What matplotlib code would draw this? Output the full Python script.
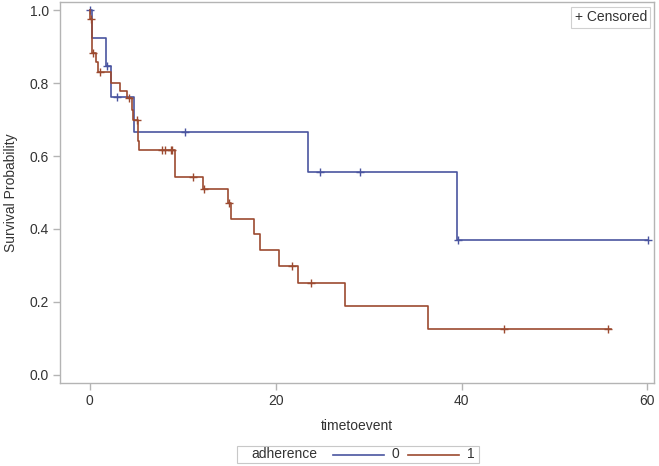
import matplotlib
matplotlib.use("Agg")
import matplotlib.pyplot as plt
from matplotlib.lines import Line2D
from matplotlib.patches import Rectangle

plt.rcParams['font.family'] = ['Liberation Sans', 'DejaVu Sans']

# adherence = 0 (blue)
times0 = [0.0, 0.2, 1.7, 2.3, 4.8, 23.5, 39.5]
surv0 = [1.0, 0.923, 0.846, 0.761, 0.666, 0.555, 0.370]
end0 = 60.1
cens_t0 = [0.05, 1.9, 2.9, 10.2, 24.8, 29.1, 39.6, 60.1]
cens_s0 = [1.0, 0.846, 0.761, 0.666, 0.555, 0.555, 0.370, 0.370]

# adherence = 1 (red)
times1 = [0.0, 0.02, 0.25, 0.65, 0.9, 2.3, 3.3, 4.0, 4.55, 4.65, 5.15, 5.3,
          9.2, 12.2, 14.9, 15.2, 17.7, 18.3, 20.4, 22.4, 27.5, 36.4]
surv1 = [1.0, 0.975, 0.883, 0.858, 0.831, 0.800, 0.779, 0.758, 0.726, 0.699, 0.641, 0.616,
         0.543, 0.510, 0.472, 0.427, 0.385, 0.342, 0.299, 0.251, 0.189, 0.125]
end1 = 56.1
cens_t1 = [0.1, 0.35, 1.15, 4.2, 5.05, 7.8, 8.1, 8.7, 8.9, 11.15, 12.3, 15.0,
           21.75, 23.8, 44.6, 55.8]
cens_s1 = [0.975, 0.883, 0.831, 0.758, 0.699, 0.616, 0.616, 0.616, 0.616, 0.543, 0.510, 0.472,
           0.299, 0.251, 0.125, 0.125]

groups = ['0', '1']
colors = ['#4a55a0', '#9c4a30']
xticks = [0, 20, 40, 60]
yticks = [0.0, 0.2, 0.4, 0.6, 0.8, 1.0]

fig = plt.figure(figsize=(6.59, 4.66), dpi=100)
ax = fig.add_axes([60/659, 1-383/466, (654-60)/659, (383-2)/466])

for t, s, e, ct, cs, c in [(times0, surv0, end0, cens_t0, cens_s0, colors[0]),
                            (times1, surv1, end1, cens_t1, cens_s1, colors[1])]:
    ax.step(t + [e], s + [s[-1]], where='post', color=c, lw=1.2)
    ax.plot(ct, cs, ls='none', marker='+', ms=6, mew=1.0, color=c)

ax.set_xlim(-3.2, 60.7)
ax.set_ylim(-0.022, 1.022)
ax.set_xticks(xticks)
ax.set_yticks(yticks)
ax.set_xticklabels([str(x) for x in xticks])
ax.set_yticklabels([f'{y:.1f}' for y in yticks])
for sp in ax.spines.values():
    sp.set_color('#b4b4b4')
    sp.set_linewidth(1.0)
ax.tick_params(direction='out', length=5, width=1, color='#b4b4b4',
               labelcolor='#333333', labelsize=10, pad=3)
ax.set_xlabel('timetoevent', fontsize=10, color='#333333', labelpad=8)
ax.set_ylabel('Survival Probability', fontsize=10, color='#333333', labelpad=8)

ax.text(0.988, 0.978, '+ Censored', transform=ax.transAxes, ha='right', va='top',
        fontsize=10, color='#333333',
        bbox=dict(boxstyle='square,pad=0.25', fc='white', ec='#d0d0d0', lw=0.8))

# bottom group legend
W, H = 659, 466
def fx(x): return x / W
def fy(y): return 1 - y / H
fig.patches.append(Rectangle((fx(237), fy(463)), fx(479) - fx(237), fy(445.5) - fy(463),
                             transform=fig.transFigure, fc='white', ec='#c8c8c8', lw=0.8))
fig.text(fx(251), fy(454.5), 'adherence', fontsize=10, color='#333333', va='center', ha='left')
for (x0, x1, lx), c, g in zip([(333, 384, 392), (408, 459, 467)], colors, groups):
    fig.lines.append(Line2D([fx(x0), fx(x1)], [fy(454.5), fy(454.5)], transform=fig.transFigure,
                            color=c, lw=1.2))
    fig.text(fx(lx), fy(454.5), g, fontsize=10, color='#333333', va='center', ha='left')

fig.savefig('out.png', dpi=100)
